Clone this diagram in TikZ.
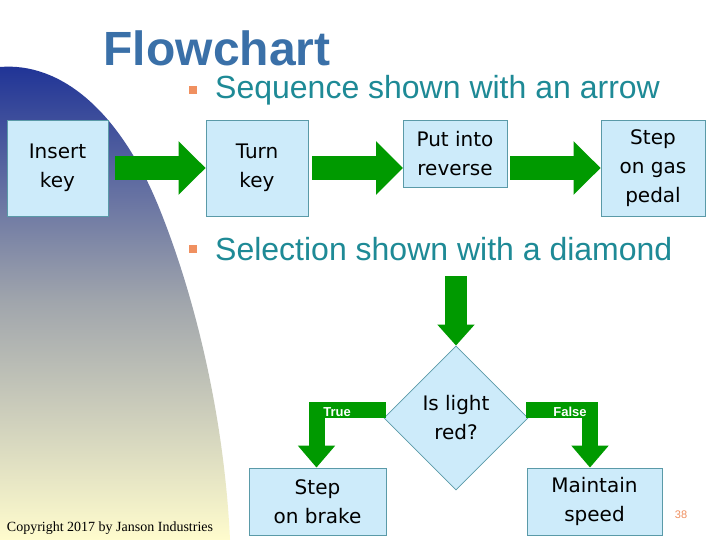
\documentclass[tikz,border=0pt]{standalone}
\usepackage{fontspec}
\setmainfont{Liberation Sans}
\newfontfamily\vfont{DejaVu Sans}
\newfontfamily\tfont{Liberation Serif}
\usetikzlibrary{arrows.meta,shapes.geometric}
\definecolor{boxfill}{HTML}{CDEBFA}
\definecolor{boxline}{HTML}{5A9AA8}
\definecolor{agreen}{HTML}{009A00}
\definecolor{titleblue}{HTML}{3A70A8}
\definecolor{bultxt}{HTML}{1E8A96}
\definecolor{bulor}{HTML}{F09060}
\begin{document}
\begin{tikzpicture}[x=1pt,y=-1pt,
  box/.style={draw=boxline,fill=boxfill,line width=0.8pt,align=center,font=\vfont\fontsize{20}{29}\selectfont,inner sep=0pt},
  garrow/.style={agreen,line width=24pt,-{Triangle[width=52pt,length=27pt]}},
  barrow/.style={agreen,line width=16pt,line join=miter,-{Triangle[width=36pt,length=22pt]}},
  bul/.style={fill=bulor,minimum size=8pt,inner sep=0pt},
  btxt/.style={text=bultxt,anchor=west,font=\fontsize{32}{36}\selectfont,inner sep=0pt},
  lab/.style={text=white,font=\bfseries\fontsize{13}{15}\selectfont,inner sep=0pt}]
\useasboundingbox (0,0) rectangle (720,540);
\fill[white] (0,0) rectangle (720,540);
\shade[top color={rgb,255:red,30;green,50;blue,150},bottom color={rgb,255:red,255;green,252;blue,205},middle color={rgb,255:red,160;green,165;blue,172}]
  (0,67) .. controls (60,62) and (120,110) .. (160,210) .. controls (200,310) and (225,430) .. (230,540) -- (0,540) -- cycle;
\node[text=titleblue,font=\bfseries\fontsize{48}{54}\selectfont] (title) at (217,48) {Flowchart};
\node[bul] (b1) at (193,90) {};
\node[btxt] (t1) at (215,90) {Sequence shown with an arrow};
\node[bul] (b2) at (193,249) {};
\node[btxt] (t2) at (215,249) {Selection shown with a diamond};
\node[box,minimum width=101pt,minimum height=96pt] (ik) at (57.5,168) {Insert\\key};
\node[box,minimum width=102pt,minimum height=96pt] (tk) at (257,168) {Turn\\key};
\node[box,minimum width=104pt,minimum height=67pt] (pr) at (455,153.5) {Put into\\reverse};
\node[box,minimum width=104pt,minimum height=96pt] (sg) at (653,168) {Step\\on gas\\pedal};
\coordinate (r1) at (403,168);
\coordinate (r2) at (510,168);
\draw[garrow] (ik.east)++(7,0) -- (tk.west);
\draw[garrow] (tk.east)++(4,0) -- (r1);
\draw[garrow] (r2) -- (sg.west);
\node[diamond,aspect=1,draw=boxline,fill=boxfill,line width=0.8pt,minimum width=144pt,minimum height=144pt,inner sep=0pt,align=center,font=\vfont\fontsize{20}{29}\selectfont] (d) at (456,418) {Is light\\red?};
\coordinate (top) at (456,276);
\draw[agreen,line width=22pt,-{Triangle[width=36pt,length=21pt]}] (top) -- (d.north);
\node[box,minimum width=137pt,minimum height=67pt] (sb) at (317.5,501.5) {Step\\on brake};
\node[box,minimum width=135pt,minimum height=67pt] (ms) at (594.5,501.5) {Maintain\\speed};
\coordinate (c1) at (316.5,410);
\coordinate (c2) at (590,410);
\draw[barrow] ([xshift=2pt]d.west |- c1) -- (c1) -- (sb.north -| c1);
\draw[barrow] ([xshift=-2pt]d.east |- c2) -- (c2) -- (ms.north -| c2);
\node[lab] (tr) at (337,412) {True};
\node[lab] (fa) at (570,412) {False};
\node[font=\tfont\fontsize{14}{16}\selectfont] (cp) at (110,528) {Copyright 2017 by Janson Industries};
\node[text=bulor,font=\fontsize{11}{13}\selectfont] (pn) at (681,515) {38};
\end{tikzpicture}
\end{document}
